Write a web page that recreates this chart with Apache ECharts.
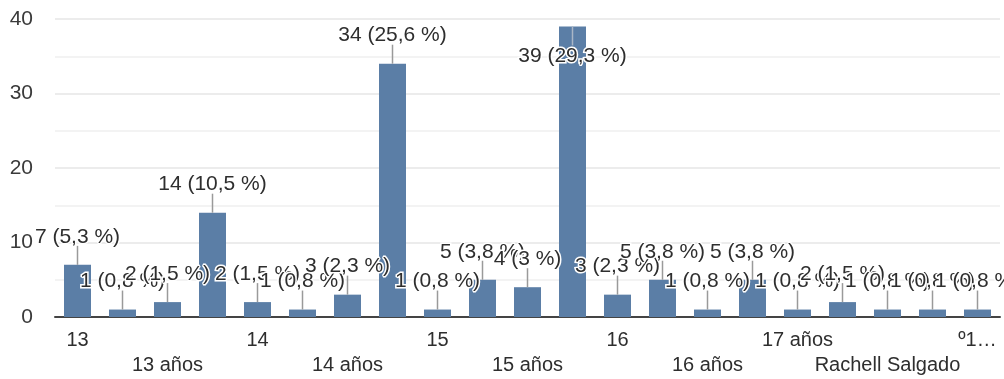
<!DOCTYPE html>
<html>
<head>
<meta charset="utf-8">
<script src="https://cdn.jsdelivr.net/npm/echarts@6/dist/echarts.min.js"></script>
<style>
  html, body { margin: 0; padding: 0; background: #fff; }
  #chart { width: 1004px; height: 379px; }
</style>
</head>
<body>
<div id="chart"></div>
<script>
// Age answers (13 … "º1…") and the number of responses for each bar
const categories = ['13', '', '13 años', '', '14', '', '14 años', '', '15', '', '15 años', '',
  '16', '', '16 años', '', '17 años', '', 'Rachell Salgado', '', 'º1…'];
const counts = [7, 1, 2, 14, 2, 1, 3, 34, 1, 5, 4, 39, 3, 5, 1, 5, 1, 2, 1, 1, 1];
const yTicks = { min: 0, max: 40, step: 10 };

const total = counts.reduce((a, b) => a + b, 0);
function pctText(v) {
  let p = (Math.round(v / total * 1000) / 10).toFixed(1);
  if (p.endsWith('.0')) p = p.slice(0, -2);
  return v + ' (' + p.replace('.', ',') + ' %)';
}

const FONT = '"Liberation Sans", Arial, sans-serif';
const chart = echarts.init(document.getElementById('chart'));

const xBase = {
  type: 'category',
  data: categories,
  position: 'bottom',
  axisTick: { show: false },
  splitLine: { show: false }
};

chart.setOption({
  animation: false,
  grid: { left: 55, right: 4, top: 19, bottom: 62, containLabel: false },
  xAxis: [
    Object.assign({}, xBase, {
      axisLine: { show: true, lineStyle: { color: '#444', width: 2 } },
      axisLabel: {
        interval: (i) => i % 4 === 0,
        margin: 13, color: '#2e2e2e', fontSize: 20, fontFamily: FONT
      }
    }),
    Object.assign({}, xBase, {
      axisLine: { show: false },
      axisLabel: {
        interval: (i) => i % 4 === 2,
        margin: 38, color: '#2e2e2e', fontSize: 20, fontFamily: FONT
      }
    })
  ],
  yAxis: {
    type: 'value',
    min: yTicks.min, max: yTicks.max, interval: yTicks.step,
    axisLine: { show: false },
    axisTick: { show: false },
    axisLabel: { margin: 22, color: '#3a3a3a', fontSize: 21, fontFamily: FONT },
    splitLine: { show: true, lineStyle: { color: '#e6e6e6', width: 1.5 } },
    minorTick: { show: false, splitNumber: 2 },
    minorSplitLine: { show: true, lineStyle: { color: '#f0f0f0', width: 1.5 } }
  },
  series: [
    {
      type: 'bar',
      data: counts,
      xAxisIndex: 0,
      barWidth: 27,
      itemStyle: { color: '#5b7ea6' },
      z: 2
    },
    {
      // value annotations with a short stem above each bar
      type: 'custom',
      xAxisIndex: 0,
      data: counts.map((v, i) => [i, v]),
      z: 5,
      renderItem: function (params, api) {
        const i = api.value(0);
        const v = api.value(1);
        const pt = api.coord([i, v]);
        const inside = pt[1] - 40 < params.coordSys.y;
        const dir = inside ? 1 : -1;
        return {
          type: 'group',
          children: [
            {
              type: 'line',
              shape: { x1: pt[0], y1: pt[1], x2: pt[0], y2: pt[1] + dir * 19 },
              style: { stroke: inside ? '#a9b6c6' : '#9a9a9a', lineWidth: 1.5 }
            },
            {
              type: 'text',
              style: {
                text: pctText(v),
                x: pt[0],
                y: pt[1] + dir * (inside ? 30 : 28),
                align: 'center',
                verticalAlign: 'middle',
                fill: '#2e2e2e',
                stroke: '#fff',
                lineWidth: 3,
                fontSize: 21,
                fontFamily: FONT
              }
            }
          ]
        };
      }
    }
  ]
});
</script>
</body>
</html>
